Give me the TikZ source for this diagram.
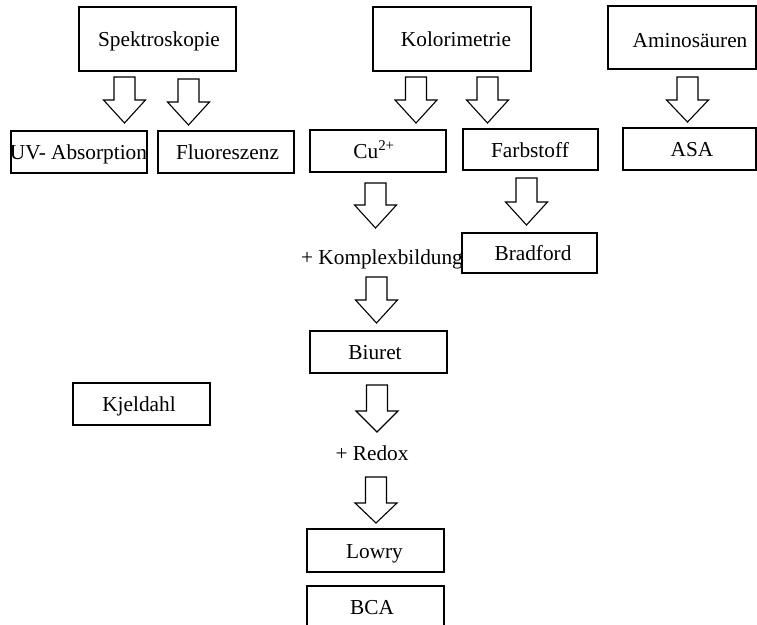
\documentclass[tikz,border=0pt]{standalone}
\usepackage{fontspec}
\setmainfont{Liberation Serif}
\newcommand{\blockarrow}[4]{%
  \draw[arr] ({#1-10.5},#2) -- ({#1+10.5},#2) -- ({#1+10.5},#3) -- ({#1+21},#3)
    -- (#1,#4) -- ({#1-21},#3) -- ({#1-10.5},#3) -- cycle;}
\begin{document}
\begin{tikzpicture}[x=1pt,y=-1pt,
  box/.style={draw, line width=1.1pt, inner sep=0pt, anchor=center},
  txt/.style={font=\fontsize{21.3}{25}\selectfont, inner sep=0pt, anchor=base},
  arr/.style={draw, line width=1.1pt, line join=miter, fill=white}]
\useasboundingbox (0,0) rectangle (757,624);
\clip (0,0) rectangle (757,624);
% boxes
\node[box, minimum width=157pt, minimum height=64pt] (spek) at (157.5,39) {};
\node[box, minimum width=158pt, minimum height=64pt] (kol) at (452,39) {};
\node[box, minimum width=148pt, minimum height=63pt] (amino) at (682,37.5) {};
\node[box, minimum width=136pt, minimum height=42pt] (uv) at (79,152) {};
\node[box, minimum width=136pt, minimum height=42pt] (fluo) at (226,152) {};
\node[box, minimum width=136pt, minimum height=42pt] (cu) at (378,151) {};
\node[box, minimum width=135pt, minimum height=41pt] (farb) at (530.5,149.5) {};
\node[box, minimum width=133pt, minimum height=42pt] (asa) at (689.5,149) {};
\node[box, minimum width=135pt, minimum height=40pt] (brad) at (529.5,253) {};
\node[box, minimum width=137pt, minimum height=42pt] (biuret) at (378.5,352) {};
\node[box, minimum width=137pt, minimum height=42pt] (kjel) at (141.5,404) {};
\node[box, minimum width=137pt, minimum height=43pt] (lowry) at (375.5,550.5) {};
\node[box, minimum width=137pt, minimum height=43pt] (bca) at (375.5,607.5) {};
% texts
\node[txt] (spek-t) at (159,46.5) {Spektroskopie};
\node[txt] (kol-t) at (456,46.5) {Kolorimetrie};
\node[txt] (amino-t) at (690,47) {Aminosäuren};
\node[txt] (uv-t) at (78.5,159) {UV- Absorption};
\node[txt] (fluo-t) at (227.5,159) {Fluoreszenz};
\node[txt] (cu-t) at (374,158) {Cu\textsuperscript{2+}};
\node[txt] (farb-t) at (530,157) {Farbstoff};
\node[txt] (asa-t) at (692,156.5) {ASA};
\node[txt] (brad-t) at (533,260) {Bradford};
\node[txt] (biuret-t) at (375,359) {Biuret};
\node[txt] (kjel-t) at (139,411) {Kjeldahl};
\node[txt] (lowry-t) at (374.5,558) {Lowry};
\node[txt] (bca-t) at (372,614) {BCA};
\node[txt] (komplex) at (382,264) {+ Komplexbildung};
\node[txt] (redox) at (372,460) {+ Redox};
% block arrows
\blockarrow{124.5}{77}{100}{123}
\blockarrow{188.5}{79}{102}{125}
\blockarrow{416}{77}{100}{123}
\blockarrow{487.5}{77}{100}{123}
\blockarrow{687.5}{77}{100}{122}
\blockarrow{375.5}{183}{205}{228}
\blockarrow{526.5}{178}{202}{225}
\blockarrow{376.5}{277}{300}{323}
\blockarrow{377}{385}{411}{432}
\blockarrow{376}{477}{503}{523}
\end{tikzpicture}
\end{document}
